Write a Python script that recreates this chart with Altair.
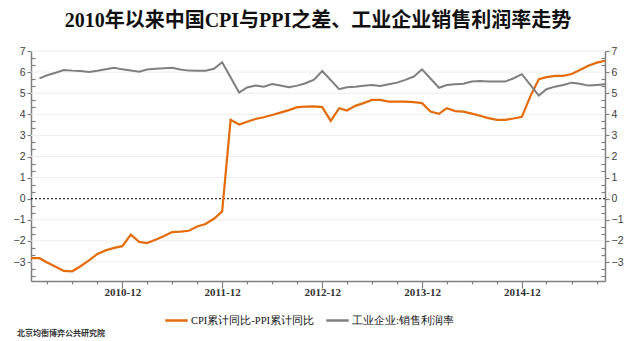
import altair as alt
import pandas as pd

# ---------------- data ----------------
months = [f"{y}/{m:02d}/01" for y in range(2010, 2016) for m in range(1, 13)][:70]

cpi_minus_ppi = [
    -2.82, -2.82, -3.02, -3.22, -3.42, -3.44, -3.20, -2.92, -2.62, -2.45, -2.33, -2.25,
    -1.70, -2.05, -2.10, -1.95, -1.78, -1.58, -1.56, -1.52, -1.32, -1.20, -0.95, -0.60,
    3.74, 3.52, 3.65, 3.78, 3.86, 3.97, 4.08, 4.20, 4.34, 4.36, 4.38, 4.34,
    3.69, 4.29, 4.18, 4.40, 4.53, 4.68, 4.68, 4.60, 4.60, 4.60, 4.58, 4.53,
    4.13, 4.02, 4.29, 4.15, 4.13, 4.03, 3.93, 3.82, 3.74, 3.74, 3.80, 3.88,
    4.85, 5.66, 5.76, 5.82, 5.82, 5.91, 6.10, 6.30, 6.45, 6.54,
]

profit_margin = [
    None, 5.70, 5.85, 5.97, 6.10, 6.07, 6.05, 6.00, 6.06, 6.13, 6.21, 6.13,
    None, 6.02, 6.12, 6.16, 6.18, 6.21, 6.12, 6.07, 6.06, 6.06, 6.16, 6.47,
    None, 5.03, 5.27, 5.36, 5.31, 5.43, 5.36, 5.28, 5.36, 5.47, 5.64, 6.05,
    None, 5.19, 5.28, 5.31, 5.35, 5.39, 5.34, 5.42, 5.50, 5.63, 5.79, 6.13,
    None, 5.26, 5.39, 5.42, 5.45, 5.55, 5.58, 5.56, 5.55, 5.55, 5.71, 5.90,
    None, 4.89, 5.19, 5.31, 5.39, 5.50, 5.45, 5.36, 5.39, 5.42,
]

series_names = ["CPI累计同比-PPI累计同比", "工业企业:销售利润率"]
series_colors = ["#E46C0A", "#7F7F7F"]

title_text = "2010年以来中国CPI与PPI之差、工业企业销售利润率走势"
source_text = "北京均衡博弈公共研究院"

major_y = list(range(-3, 8))
minor_y = [round(i / 3, 4) for i in range(-11, 21) if i % 3 != 0]
grid_y = [v for v in major_y if v != 0]

# ---------------- frames ----------------
df_a = pd.DataFrame({"date": months, "value": cpi_minus_ppi, "series": series_names[0]})
df_b = pd.DataFrame({"date": months, "value": profit_margin, "series": series_names[1]}).dropna()
df_grid = pd.DataFrame({"value": grid_y})
df_zero = pd.DataFrame({"value": [0]})
df_src = pd.DataFrame({"t": [source_text]})

GRAY = "#808080"
W, H = 574, 230

y_scale = alt.Scale(domain=[-3.9, 7], nice=False, zero=False)
x_scale = alt.Scale(domain=[alt.DateTime(year=2010, month=1, date=1),
                            alt.DateTime(year=2015, month=10, date=1)], nice=False)

x_vals = [alt.DateTime(year=y, month=m, date=1)
          for y in range(2010, 2016) for m in (3, 6, 9, 12)
          if not (y == 2015 and m == 12)]

x_axis = alt.Axis(
    values=x_vals,
    labelExpr="month(datum.value) == 11 ? timeFormat(datum.value, '%Y-%m') : ''",
    tickSize={"condition": {"test": "month(datum.value) == 11", "value": 7}, "value": 3},
    tickColor=GRAY, tickWidth=1.2,
    domainColor=GRAY, domainWidth=1.5,
    labelFont="Liberation Serif", labelFontWeight="bold", labelFontSize=11,
    labelColor="#333333", labelPadding=-2, labelOverlap=False,
    grid=False, title=None,
)

def major_axis(orient):
    return alt.Axis(
        orient=orient, values=major_y, format="d",
        tickSize=4, tickColor=GRAY, tickWidth=1.2,
        domainColor=GRAY, domainWidth=1.5,
        labelFont="Liberation Sans", labelFontSize=10.5, labelColor="#404040",
        labelPadding=2, grid=False, title=None,
    )

def minor_axis(orient):
    return alt.Axis(
        orient=orient, offset=-4, values=minor_y,
        tickSize=4, tickColor=GRAY, tickWidth=1.2,
        labels=False, domain=False, grid=False, title=None,
    )

color = alt.Color(
    "series:N",
    scale=alt.Scale(domain=series_names, range=series_colors),
    legend=alt.Legend(
        orient="none", legendX=133, legendY=257, direction="horizontal",
        symbolType="stroke", symbolSize=500, symbolStrokeWidth=2.5,
        labelFont="Liberation Serif", labelFontSize=10.5, labelColor="#111111",
        labelOffset=2, columnPadding=6, title=None,
    ),
)

grid = alt.Chart(df_grid).mark_rule(color="#EDEDED", strokeWidth=1).encode(
    y=alt.Y("value:Q", scale=y_scale, axis=minor_axis("right"))
)

zero = alt.Chart(df_zero).mark_rule(color="black", strokeWidth=1, strokeDash=[2, 2]).encode(
    y=alt.Y("value:Q", scale=y_scale, axis=minor_axis("left"))
)

line_a = alt.Chart(df_a).mark_line(strokeWidth=2.2).encode(
    x=alt.X("date:T", scale=x_scale, axis=x_axis),
    y=alt.Y("value:Q", scale=y_scale, axis=major_axis("left")),
    color=color,
)

line_b = alt.Chart(df_b).mark_line(strokeWidth=2).encode(
    x=alt.X("date:T", scale=x_scale, axis=x_axis),
    y=alt.Y("value:Q", scale=y_scale, axis=major_axis("right")),
    color=color,
)

src = alt.Chart(df_src).mark_text(
    align="left", baseline="middle", fontSize=8, fontWeight="bold",
    font="Noto Sans CJK SC", color="#333333",
).encode(x=alt.value(-14), y=alt.value(283), text="t:N")

chart = (
    alt.layer(grid, zero, line_a, line_b, src)
    .resolve_axis(y="independent")
    .properties(
        width=W, height=H,
        autosize=alt.AutoSizeParams(type="none"),
        padding={"left": 31, "top": 51, "right": 24, "bottom": 60},
        title=alt.TitleParams(
            title_text, font="Liberation Serif, Noto Sans CJK SC", fontSize=20,
            fontWeight="bold", color="#111111", anchor="middle", offset=15,
        ),
        background="white",
    )
    .configure_view(stroke=None)
)

chart.save("out.html", embed_options={"renderer": "svg", "actions": False})
